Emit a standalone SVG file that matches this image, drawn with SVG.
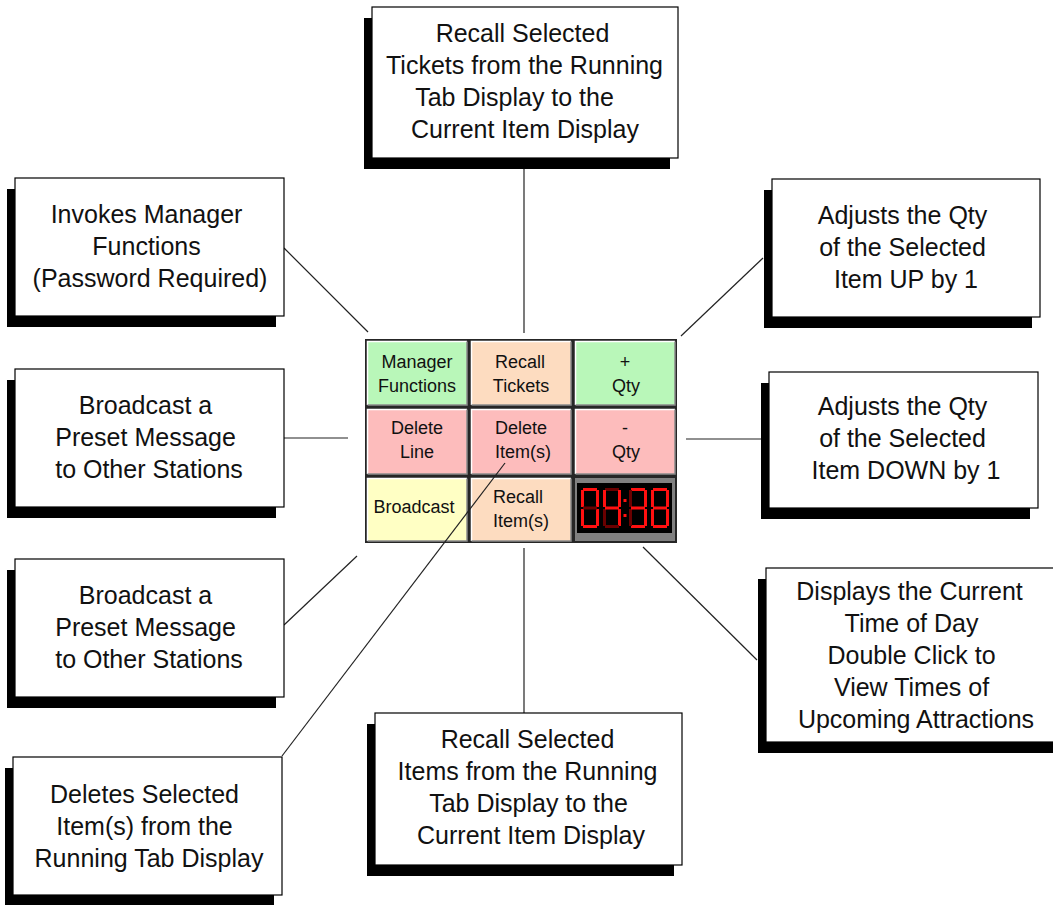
<svg xmlns="http://www.w3.org/2000/svg" width="1053" height="905" viewBox="0 0 1053 905">
  <style>
    .shadow { fill: #000; }
    .box { fill: #fff; stroke: #000; stroke-width: 1.2; }
    .lbl { font-family: "Liberation Sans", Arial, sans-serif; font-size: 25px; fill: #111; text-anchor: middle; }
    .cell-txt { font-family: "Liberation Sans", Arial, sans-serif; font-size: 18px; fill: #111; text-anchor: middle; }
    .hi { fill: none; stroke: #fff; stroke-width: 1.5; }
    .lo { fill: none; stroke: #8a8a8a; stroke-width: 1.5; }
    .link { stroke: #222; stroke-width: 1.2; fill: none; }
    .green { fill: #b9f7b9; }
    .peach { fill: #fddcc0; }
    .pink { fill: #fdbcbc; }
    .yellow { fill: #ffffc4; }
    .on { fill: #ff1010; }
    .off { fill: #6a0000; }
  </style>

  <rect width="1053" height="905" fill="#fff"/>

  <!-- connectors -->
  <g id="connectors">
    <line class="link" x1="524" y1="158" x2="524" y2="333"/>
    <line class="link" x1="284" y1="248" x2="368" y2="332"/>
    <line class="link" x1="763" y1="258" x2="681" y2="336"/>
    <line class="link" x1="284" y1="438" x2="348" y2="438"/>
    <line class="link" x1="686" y1="439" x2="762" y2="439"/>
    <line class="link" x1="284" y1="625" x2="357" y2="556"/>
    <line class="link" x1="524" y1="548" x2="524" y2="713"/>
    <line class="link" x1="757" y1="660" x2="643" y2="547"/>
  </g>

  <!-- callout boxes -->
  <g id="box-recall-tickets">
    <rect class="shadow" x="364" y="18" width="306" height="151"/>
    <rect class="box" x="372" y="7" width="306" height="151"/>
    <text class="lbl">
      <tspan x="526" y="42">Recall Selected</tspan>
      <tspan x="528" y="74">Tickets from the Running</tspan>
      <tspan x="518" y="106">Tab Display to the</tspan>
      <tspan x="525" y="138">Current Item Display</tspan>
    </text>
  </g>

  <g id="box-manager">
    <rect class="shadow" x="7" y="189" width="269" height="138"/>
    <rect class="box" x="15" y="178" width="269" height="138"/>
    <text class="lbl">
      <tspan x="150" y="223">Invokes Manager</tspan>
      <tspan x="150" y="255">Functions</tspan>
      <tspan x="150" y="287">(Password Required)</tspan>
    </text>
  </g>

  <g id="box-qty-up">
    <rect class="shadow" x="764" y="190" width="268" height="138"/>
    <rect class="box" x="772" y="179" width="268" height="138"/>
    <text class="lbl">
      <tspan x="906" y="224">Adjusts the Qty</tspan>
      <tspan x="906" y="256">of the Selected</tspan>
      <tspan x="906" y="288">Item UP by 1</tspan>
    </text>
  </g>

  <g id="box-broadcast-1">
    <rect class="shadow" x="7" y="380" width="269" height="138"/>
    <rect class="box" x="15" y="369" width="269" height="138"/>
    <text class="lbl">
      <tspan x="149" y="414">Broadcast a</tspan>
      <tspan x="149" y="446">Preset Message</tspan>
      <tspan x="149" y="478">to Other Stations</tspan>
    </text>
  </g>

  <g id="box-qty-down">
    <rect class="shadow" x="761" y="383" width="269" height="136"/>
    <rect class="box" x="769" y="372" width="269" height="136"/>
    <text class="lbl">
      <tspan x="906" y="415">Adjusts the Qty</tspan>
      <tspan x="906" y="447">of the Selected</tspan>
      <tspan x="906" y="479">Item DOWN by 1</tspan>
    </text>
  </g>

  <g id="box-broadcast-2">
    <rect class="shadow" x="7" y="570" width="269" height="138"/>
    <rect class="box" x="15" y="559" width="269" height="138"/>
    <text class="lbl">
      <tspan x="149" y="604">Broadcast a</tspan>
      <tspan x="149" y="636">Preset Message</tspan>
      <tspan x="149" y="668">to Other Stations</tspan>
    </text>
  </g>

  <g id="box-clock">
    <rect class="shadow" x="758" y="579" width="300" height="174"/>
    <rect class="box" x="766" y="568" width="300" height="174"/>
    <text class="lbl">
      <tspan x="913" y="600">Displays the Current</tspan>
      <tspan x="915" y="632">Time of Day</tspan>
      <tspan x="915" y="664">Double Click to</tspan>
      <tspan x="915" y="696">View Times of</tspan>
      <tspan x="916" y="728">Upcoming Attractions</tspan>
    </text>
  </g>

  <g id="box-recall-items">
    <rect class="shadow" x="367" y="724" width="307" height="152"/>
    <rect class="box" x="375" y="713" width="307" height="152"/>
    <text class="lbl">
      <tspan x="531" y="748">Recall Selected</tspan>
      <tspan x="531" y="780">Items from the Running</tspan>
      <tspan x="532" y="812">Tab Display to the</tspan>
      <tspan x="531" y="844">Current Item Display</tspan>
    </text>
  </g>

  <g id="box-delete-items">
    <rect class="shadow" x="5" y="768" width="269" height="138"/>
    <rect class="box" x="13" y="757" width="269" height="138"/>
    <text class="lbl">
      <tspan x="148" y="803">Deletes Selected</tspan>
      <tspan x="148" y="835">Item(s) from the</tspan>
      <tspan x="149" y="867">Running Tab Display</tspan>
    </text>
  </g>

  <!-- button panel -->
  <g id="panel">
    <rect x="365" y="339" width="312" height="204" fill="#262626"/>

    <g id="btn-manager">
      <rect class="green" x="367" y="341" width="100" height="64"/>
      <path class="hi" d="M367.5,405 V341.5 H467"/>
      <path class="lo" d="M467,341.5 V405 H367.5"/>
      <text class="cell-txt"><tspan x="417" y="368">Manager</tspan><tspan x="417" y="392">Functions</tspan></text>
    </g>
    <g id="btn-recall-tickets">
      <rect class="peach" x="471" y="341" width="100" height="64"/>
      <path class="hi" d="M471.5,405 V341.5 H571"/>
      <path class="lo" d="M571,341.5 V405 H471.5"/>
      <text class="cell-txt"><tspan x="520" y="368">Recall</tspan><tspan x="521" y="392">Tickets</tspan></text>
    </g>
    <g id="btn-qty-up">
      <rect class="green" x="575" y="341" width="100" height="64"/>
      <path class="hi" d="M575.5,405 V341.5 H675"/>
      <path class="lo" d="M675,341.5 V405 H575.5"/>
      <text class="cell-txt"><tspan x="625" y="368">+</tspan><tspan x="626" y="392">Qty</tspan></text>
    </g>

    <g id="btn-delete-line">
      <rect class="pink" x="367" y="409" width="100" height="65"/>
      <path class="hi" d="M367.5,474 V409.5 H467"/>
      <path class="lo" d="M467,409.5 V474 H367.5"/>
      <text class="cell-txt"><tspan x="417" y="434">Delete</tspan><tspan x="417" y="458">Line</tspan></text>
    </g>
    <g id="btn-delete-items">
      <rect class="pink" x="471" y="409" width="100" height="65"/>
      <path class="hi" d="M471.5,474 V409.5 H571"/>
      <path class="lo" d="M571,409.5 V474 H471.5"/>
      <text class="cell-txt"><tspan x="521" y="434">Delete</tspan><tspan x="523" y="458">Item(s)</tspan></text>
    </g>
    <g id="btn-qty-down">
      <rect class="pink" x="575" y="409" width="100" height="65"/>
      <path class="hi" d="M575.5,474 V409.5 H675"/>
      <path class="lo" d="M675,409.5 V474 H575.5"/>
      <text class="cell-txt"><tspan x="625" y="434">-</tspan><tspan x="626" y="458">Qty</tspan></text>
    </g>

    <g id="btn-broadcast">
      <rect class="yellow" x="367" y="478" width="100" height="63"/>
      <path class="hi" d="M367.5,541 V478.5 H467"/>
      <path class="lo" d="M467,478.5 V541 H367.5"/>
      <text class="cell-txt" x="414" y="513">Broadcast</text>
    </g>
    <g id="btn-recall-items">
      <rect class="peach" x="471" y="478" width="100" height="63"/>
      <path class="hi" d="M471.5,541 V478.5 H571"/>
      <path class="lo" d="M571,478.5 V541 H471.5"/>
      <text class="cell-txt"><tspan x="518" y="503">Recall</tspan><tspan x="521" y="527">Item(s)</tspan></text>
    </g>

    <!-- time-of-day display -->
    <g id="btn-clock">
      <rect x="575" y="478" width="100" height="63" fill="#808080"/>
      <rect x="577" y="483" width="95" height="50" fill="#000"/>
      <!-- digit 1 -->
      <g transform="translate(581,488)">
        <rect class="on" x="2" y="0" width="14" height="3"/>
        <rect class="on" x="15" y="2" width="3" height="17"/>
        <rect class="on" x="15" y="21" width="3" height="17"/>
        <rect class="on" x="2" y="37" width="14" height="3"/>
        <rect class="on" x="0" y="21" width="3" height="17"/>
        <rect class="on" x="0" y="2" width="3" height="17"/>
        <rect class="off" x="2" y="18.5" width="14" height="3"/>
      </g>
      <!-- digit 2 -->
      <g transform="translate(603,488)">
        <rect class="off" x="2" y="0" width="14" height="3"/>
        <rect class="on" x="15" y="2" width="3" height="17"/>
        <rect class="on" x="15" y="21" width="3" height="17"/>
        <rect class="off" x="2" y="37" width="14" height="3"/>
        <rect class="off" x="0" y="21" width="3" height="17"/>
        <rect class="on" x="0" y="2" width="3" height="17"/>
        <rect class="on" x="2" y="18.5" width="14" height="3"/>
      </g>
      <!-- colon -->
      <rect class="on" x="623.5" y="499" width="3" height="3"/>
      <rect class="on" x="623.5" y="514" width="3" height="3"/>
      <!-- digit 3 -->
      <g transform="translate(629,488)">
        <rect class="on" x="2" y="0" width="14" height="3"/>
        <rect class="on" x="15" y="2" width="3" height="17"/>
        <rect class="on" x="15" y="21" width="3" height="17"/>
        <rect class="on" x="2" y="37" width="14" height="3"/>
        <rect class="off" x="0" y="21" width="3" height="17"/>
        <rect class="off" x="0" y="2" width="3" height="17"/>
        <rect class="on" x="2" y="18.5" width="14" height="3"/>
      </g>
      <!-- digit 4 -->
      <g transform="translate(651,488)">
        <rect class="on" x="2" y="0" width="14" height="3"/>
        <rect class="on" x="15" y="2" width="3" height="17"/>
        <rect class="on" x="15" y="21" width="3" height="17"/>
        <rect class="on" x="2" y="37" width="14" height="3"/>
        <rect class="on" x="0" y="21" width="3" height="17"/>
        <rect class="on" x="0" y="2" width="3" height="17"/>
        <rect class="on" x="2" y="18.5" width="14" height="3"/>
      </g>
    </g>
  </g>

  <!-- this leader crosses over the panel -->
  <g id="connectors-front">
    <line class="link" x1="282" y1="756" x2="505" y2="463"/>
  </g>
</svg>
